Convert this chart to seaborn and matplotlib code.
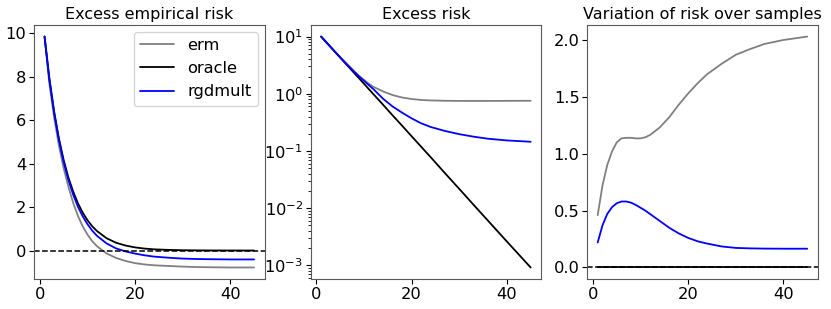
import matplotlib
matplotlib.use("Agg")
import matplotlib.pyplot as plt
import seaborn as sns
import pandas as pd

steps = [1, 2, 3, 4, 5, 6, 7, 8, 9, 10, 11, 12, 14, 16, 18, 20, 22, 24, 27, 30, 33, 36, 40, 45]

# Excess empirical risk
emp_erm = [9.85, 7.7, 6.15, 4.85, 3.8, 2.95, 2.2, 1.6, 1.12, 0.74, 0.43, 0.2, -0.13, -0.34,
           -0.48, -0.58, -0.64, -0.68, -0.71, -0.74, -0.76, -0.77, -0.78, -0.78]
emp_oracle = [9.85, 7.95, 6.42, 5.18, 4.18, 3.37, 2.72, 2.18, 1.75, 1.4, 1.12, 0.9, 0.57, 0.36,
              0.23, 0.145, 0.09, 0.055, 0.03, 0.015, 0.008, 0.004, 0.002, 0.001]
emp_rgd = [9.85, 7.9, 6.35, 5.1, 4.08, 3.25, 2.58, 2.02, 1.58, 1.22, 0.92, 0.68, 0.33, 0.1,
           -0.04, -0.14, -0.22, -0.28, -0.33, -0.37, -0.39, -0.40, -0.41, -0.41]

# Excess risk (log scale)
ex_erm = [10.0, 8.1, 6.6, 5.35, 4.4, 3.6, 3.0, 2.45, 2.05, 1.75, 1.5, 1.32, 1.1, 0.95,
          0.86, 0.81, 0.78, 0.765, 0.755, 0.75, 0.75, 0.75, 0.752, 0.755]
ex_oracle = [10.0, 8.1, 6.56, 5.31, 4.3, 3.48, 2.82, 2.28, 1.85, 1.5, 1.21, 0.98, 0.645, 0.42,
             0.277, 0.181, 0.119, 0.078, 0.041, 0.0218, 0.0115, 0.0061, 0.00262, 0.00092]
ex_rgd = [10.0, 8.1, 6.56, 5.32, 4.32, 3.52, 2.9, 2.4, 2.0, 1.68, 1.42, 1.2, 0.82, 0.6,
          0.468, 0.372, 0.305, 0.263, 0.224, 0.197, 0.178, 0.164, 0.153, 0.145]

# Variation of risk over samples
var_erm = [0.46, 0.72, 0.9, 1.02, 1.10, 1.135, 1.14, 1.14, 1.135, 1.135, 1.145, 1.165, 1.23, 1.32,
           1.43, 1.53, 1.62, 1.7, 1.79, 1.87, 1.92, 1.965, 2.0, 2.03]
var_oracle = [0.0] * len(steps)
var_rgd = [0.22, 0.37, 0.47, 0.53, 0.565, 0.58, 0.58, 0.57, 0.55, 0.525, 0.5, 0.47, 0.41, 0.35,
           0.3, 0.26, 0.23, 0.21, 0.185, 0.172, 0.168, 0.166, 0.165, 0.165]

methods = ["erm", "oracle", "rgdmult"]
colors = {"erm": "gray", "oracle": "black", "rgdmult": "blue"}

panels = [
    ("Excess empirical risk", [emp_erm, emp_oracle, emp_rgd]),
    ("Excess risk", [ex_erm, ex_oracle, ex_rgd]),
    ("Variation of risk over samples", [var_erm, var_oracle, var_rgd]),
]

sns.set_style("ticks")
plt.rcParams["font.family"] = ["DejaVu Sans"]
plt.rcParams["axes.edgecolor"] = "0.35"
plt.rcParams["text.color"] = "black"
plt.rcParams["xtick.color"] = "black"
plt.rcParams["ytick.color"] = "black"
plt.rcParams["xtick.labelsize"] = 11.7
plt.rcParams["ytick.labelsize"] = 11.7

fig, axes = plt.subplots(1, 3, figsize=(8.31, 3.09), dpi=100)
fig.subplots_adjust(left=0.041, right=0.984, top=0.919, bottom=0.097, wspace=0.2)

for i, (ax, (title, series)) in enumerate(zip(axes, panels)):
    rows = []
    for m, vals in zip(methods, series):
        for s, v in zip(steps, vals):
            rows.append({"step": s, "value": v, "method": m})
    df = pd.DataFrame(rows)
    sns.lineplot(data=df, x="step", y="value", hue="method", palette=colors,
                 linewidth=1.3, ax=ax, legend=(i == 0))
    if i == 1:
        ax.set_yscale("log")
        ax.tick_params(axis="y", which="minor", length=2, width=0.6, left=True)
    else:
        ax.axhline(0, color="black", linestyle="--", linewidth=1.1)
    ax.set_title(title, fontsize=11.5, pad=4)
    ax.set_xlabel("")
    ax.set_ylabel("")
    ax.set_xticks([0, 20, 40])
    ax.tick_params(which="major", length=3.5, width=0.8, pad=2)

leg = axes[0].legend(loc="upper right", fontsize=11.7, frameon=True, fancybox=True,
                     handlelength=2.1, handletextpad=0.8, borderaxespad=0.4)
leg.get_frame().set_edgecolor("0.8")

fig.savefig("out.png", dpi=100)
